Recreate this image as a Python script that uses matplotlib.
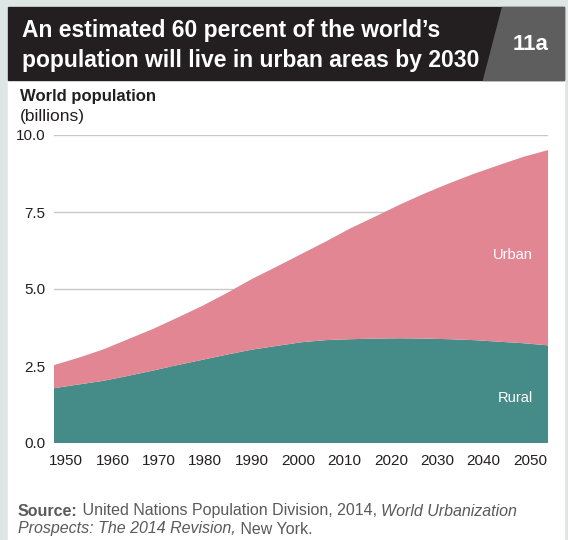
import matplotlib
matplotlib.use('Agg')
import matplotlib.pyplot as plt
from matplotlib.patches import Rectangle, Polygon

# World population by area, billions (UN WUP 2014), 5-year steps
years = [1950, 1955, 1960, 1965, 1970, 1975, 1980, 1985, 1990, 1995, 2000,
         2005, 2010, 2015, 2020, 2025, 2030, 2035, 2040, 2045, 2050]
rural = [1.78, 1.90, 2.02, 2.18, 2.35, 2.53, 2.70, 2.87, 3.03, 3.15, 3.27,
         3.34, 3.37, 3.39, 3.40, 3.39, 3.37, 3.34, 3.29, 3.24, 3.17]
urban = [0.75, 0.87, 1.02, 1.19, 1.35, 1.54, 1.75, 2.00, 2.29, 2.57, 2.86,
         3.20, 3.60, 3.96, 4.34, 4.71, 5.06, 5.40, 5.73, 6.05, 6.34]
y_ticks = [0.0, 2.5, 5.0, 7.5, 10.0]
x_ticks = [1950, 1960, 1970, 1980, 1990, 2000, 2010, 2020, 2030, 2040, 2050]

W, H = 568, 540
plt.rcParams['font.family'] = ['Liberation Sans', 'DejaVu Sans']

fig = plt.figure(figsize=(W / 100, H / 100), dpi=100)
fig.patch.set_facecolor('#dde6e4')

def px(x, y):
    # pixel coords (top-left origin) -> figure fraction
    return x / W, 1 - y / H

# white panel + title bar (behind the axes)
fig.patches.append(Rectangle((8 / W, 0), (564 - 8) / W, (H - 7) / H,
                             transform=fig.transFigure, color='white', zorder=-3))
fig.patches.append(Rectangle((8 / W, 1 - 80 / H), (564 - 8) / W, 73 / H,
                             transform=fig.transFigure, color='#231f20', zorder=-2))
fig.patches.append(Polygon([px(502, 7), px(564, 7), px(564, 80), px(483, 80)],
                           closed=True, transform=fig.transFigure,
                           color='#5e5e5e', zorder=-1))

fig.text(*px(22, 30), "An estimated 60 percent of the world\u2019s", color='white',
         fontsize=16.5, fontweight='bold', va='center', ha='left', zorder=3)
fig.text(*px(22, 61), "population will live in urban areas by 2030", color='white',
         fontsize=16.5, fontweight='bold', va='center', ha='left', zorder=3)
fig.text(*px(531, 45), "11a", color='white', fontsize=16, fontweight='bold',
         va='center', ha='center', zorder=3)

fig.text(*px(20, 97), "World population", color='#231f20', fontsize=12,
         fontweight='bold', va='center', ha='left')
fig.text(*px(20, 116), "(billions)", color='#231f20', fontsize=12.5,
         va='center', ha='left')

# main axes
ax = fig.add_axes([54 / W, 97 / H, (548 - 54) / W, (405 - 97) / H])
ax.set_facecolor('none')
ax.stackplot(years, rural, urban, colors=['#458c88', '#e28694'],
             linewidth=0, zorder=2)
ax.set_xlim(1950, 2050)
ax.set_ylim(0, 10)
ax.set_yticks(y_ticks)
ax.set_yticklabels([f"{v:.1f}" for v in y_ticks])
ax.set_xticks([])
for s in ax.spines.values():
    s.set_visible(False)
ax.tick_params(length=0, labelsize=11, colors='#231f20')
ax.tick_params(axis='y', pad=6)
for v in y_ticks:
    ax.axhline(v, color='#c8c8c8', lw=1, zorder=1)

# year labels sit slightly inset from the data edges in the original
lab = ax.twiny()
lab.set_xlim(1947.4, 2053.9)
lab.xaxis.set_ticks_position('bottom')
lab.xaxis.set_label_position('bottom')
lab.set_xticks(x_ticks)
lab.set_xticklabels([str(v) for v in x_ticks])
lab.tick_params(length=0, labelsize=11, colors='#231f20', pad=8)
for s in lab.spines.values():
    s.set_visible(False)

ax.text(2047, 6.1, "Urban", color='white', fontsize=10.5, ha='right', va='center')
ax.text(2047, 1.47, "Rural", color='white', fontsize=10.5, ha='right', va='center')

# source note with mixed styles
fig.canvas.draw()
renderer = fig.canvas.get_renderer()

def write_line(parts, x0, y):
    x = x0
    for txt, weight, style in parts:
        t = fig.text(x / W, 1 - y / H, txt, color='#5a5a5a', fontsize=11.5,
                     fontweight=weight, fontstyle=style, va='center', ha='left')
        bb = t.get_window_extent(renderer)
        x += bb.width

write_line([("Source:", 'bold', 'normal'),
            (" United Nations Population Division, 2014, ", 'normal', 'normal'),
            ("World Urbanization", 'normal', 'italic')], 18, 511)
write_line([("Prospects: The 2014 Revision,", 'normal', 'italic'),
            (" New York.", 'normal', 'normal')], 18, 529)

fig.savefig('out.png', dpi=100, facecolor=fig.get_facecolor())
